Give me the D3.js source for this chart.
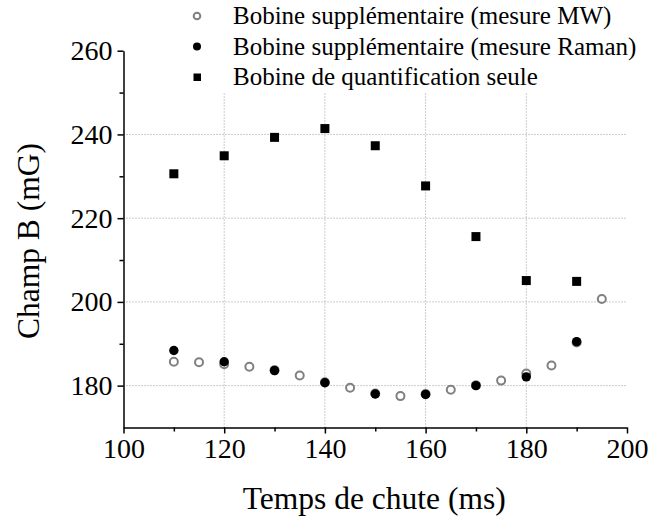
<!DOCTYPE html>
<html>
<head>
<meta charset="utf-8">
<script src="https://cdn.jsdelivr.net/npm/d3@7"></script>
<style>
  body { margin: 0; background: #fff; }
  svg text { font-family: "Liberation Serif", "Times New Roman", serif; fill: #000; }
</style>
</head>
<body>
<div id="chart"></div>
<script>
// Data
const mwTimes = [110, 115, 120, 125, 130, 135, 140, 145, 150, 155, 160, 165, 170, 175, 180, 185, 190, 195];
const mwField = [185.7, 185.6, 185.1, 184.5, 183.7, 182.4, 180.8, 179.5, 178.1, 177.5, 178.0, 179.0, 180.1, 181.2, 182.9, 184.8, 190.3, 200.7];

const ramanTimes = [110, 120, 130, 140, 150, 160, 170, 180, 190];
const ramanField = [188.4, 185.7, 183.6, 180.7, 178.0, 177.9, 180.0, 182.1, 190.5];

const quantTimes = [110, 120, 130, 140, 150, 160, 170, 180, 190];
const quantField = [230.6, 234.9, 239.3, 241.4, 237.3, 227.7, 215.6, 205.1, 204.9];

const xTicks = [100, 120, 140, 160, 180, 200];
const yTicks = [180, 200, 220, 240, 260];
const legendLabels = [
   "Bobine supplémentaire (mesure MW)",
   "Bobine supplémentaire (mesure Raman)",
   "Bobine de quantification seule"
];

const serif = "'Liberation Serif', 'Times New Roman', serif";
const W = 650, H = 523;
const margin = { top: 50.7, right: 23, bottom: 95.5, left: 123.5 };
const width = W - margin.left - margin.right;
const height = H - margin.top - margin.bottom;

const svg = d3.select("#chart")
   .append("svg")
   .attr("width", W)
   .attr("height", H);

const g = svg.append("g")
   .attr("transform", `translate(${margin.left},${margin.top})`);

// scales
const x = d3.scaleLinear().domain([100, 200]).range([0, width]);
const y = d3.scaleLinear().domain([170, 260]).range([height, 0]);

// dotted grid
g.selectAll(".vgrid")
   .data(xTicks.filter(d => d > 100 && d < 200))
   .enter().append("line")
   .attr("x1", d => x(d)).attr("x2", d => x(d))
   .attr("y1", height).attr("y2", 0)
   .attr("stroke", "#999")
   .attr("stroke-width", 1)
   .attr("stroke-dasharray", "1,2");

g.selectAll(".hgrid")
   .data(yTicks.filter(d => d < 260))
   .enter().append("line")
   .attr("x1", 0).attr("x2", width)
   .attr("y1", d => y(d)).attr("y2", d => y(d))
   .attr("stroke", "#999")
   .attr("stroke-width", 1)
   .attr("stroke-dasharray", "1,2");

// x axis (major + minor ticks)
const xAxis = g.append("g")
   .attr("transform", `translate(0,${height})`);
xAxis.call(d3.axisBottom(x).tickValues(d3.range(110, 200, 20)).tickSize(4).tickFormat(""))
   .call(a => a.select(".domain").remove());
xAxis.append("g")
   .call(d3.axisBottom(x).tickValues(xTicks).tickSize(6).tickSizeOuter(0).tickPadding(5))
   .call(a => a.selectAll("text")
      .style("font-family", serif)
      .style("font-size", "28px"));
xAxis.selectAll("line, path").attr("stroke", "#000").attr("stroke-width", 1.5);

// y axis
const yAxis = g.append("g");
yAxis.call(d3.axisLeft(y).tickValues(d3.range(190, 260, 20)).tickSize(4).tickFormat(""))
   .call(a => a.select(".domain").remove());
yAxis.append("g")
   .call(d3.axisLeft(y).tickValues(yTicks).tickSize(6).tickSizeOuter(0).tickPadding(5))
   .call(a => a.selectAll("text")
      .style("font-family", serif)
      .style("font-size", "28px"));
yAxis.selectAll("line, path").attr("stroke", "#000").attr("stroke-width", 1.5);

// axis titles
svg.append("text")
   .attr("x", margin.left + width / 2 - 1)
   .attr("y", 509)
   .attr("text-anchor", "middle")
   .style("font-family", serif)
   .style("font-size", "31.5px")
   .text("Temps de chute (ms)");

svg.append("text")
   .attr("transform", `translate(39,${margin.top + height / 2 + 2}) rotate(-90)`)
   .attr("text-anchor", "middle")
   .style("font-family", serif)
   .style("font-size", "31.5px")
   .text("Champ B (mG)");

// marks
g.selectAll(".quant")
   .data(quantTimes)
   .enter().append("rect")
   .attr("x", d => x(d) - 4.5)
   .attr("y", (d, i) => y(quantField[i]) - 4.5)
   .attr("width", 9).attr("height", 9)
   .attr("fill", "#000");

g.selectAll(".mw")
   .data(mwTimes)
   .enter().append("circle")
   .attr("cx", d => x(d))
   .attr("cy", (d, i) => y(mwField[i]))
   .attr("r", 4)
   .attr("fill", "none")
   .attr("stroke", "#808080")
   .attr("stroke-width", 2);

g.selectAll(".raman")
   .data(ramanTimes)
   .enter().append("circle")
   .attr("cx", d => x(d))
   .attr("cy", (d, i) => y(ramanField[i]))
   .attr("r", 4.7)
   .attr("fill", "#000");

// legend (white box over the grid)
const legend = svg.append("g");
legend.append("rect")
   .attr("x", 140).attr("y", 0)
   .attr("width", 510).attr("height", 93)
   .attr("fill", "#fff");

const rowY = [16, 46.5, 77];
legend.append("circle")
   .attr("cx", 197).attr("cy", rowY[0]).attr("r", 3.3)
   .attr("fill", "none").attr("stroke", "#808080").attr("stroke-width", 2);
legend.append("circle")
   .attr("cx", 197).attr("cy", rowY[1]).attr("r", 4)
   .attr("fill", "#000");
legend.append("rect")
   .attr("x", 193.5).attr("y", rowY[2] - 3.5)
   .attr("width", 7.5).attr("height", 7.5)
   .attr("fill", "#000");

legend.selectAll(".leg-text")
   .data(legendLabels)
   .enter().append("text")
   .attr("x", 233)
   .attr("y", (d, i) => rowY[i] + 8)
   .style("font-family", serif)
   .style("font-size", "25px")
   .text(d => d);
</script>
</body>
</html>
